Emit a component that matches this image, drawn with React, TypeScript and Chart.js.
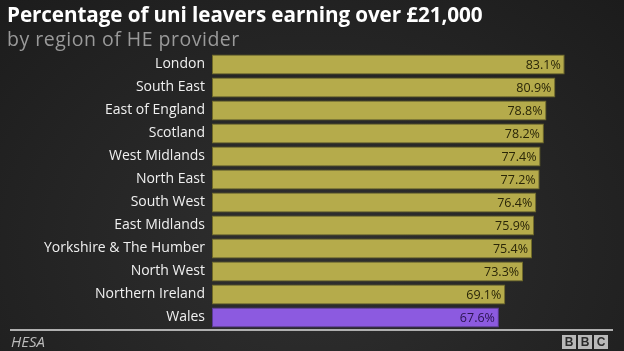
import React, { useEffect, useRef } from "react";
import { Chart, registerables } from "chart.js";

Chart.register(...registerables);

const regions = [
  "London",
  "South East",
  "East of England",
  "Scotland",
  "West Midlands",
  "North East",
  "South West",
  "East Midlands",
  "Yorkshire & The Humber",
  "North West",
  "Northern Ireland",
  "Wales",
];
const percentages = [83.1, 80.9, 78.8, 78.2, 77.4, 77.2, 76.4, 75.9, 75.4, 73.3, 69.1, 67.6];
const highlightRegion = "Wales";

const FONT = "'Open Sans', 'Lato', sans-serif";

export default function App() {
  const ref = useRef<HTMLCanvasElement | null>(null);

  useEffect(() => {
    if (!ref.current) return;
    const olive = "#b5ab4b";
    const purple = "#8c5ae0";
    const valueLabels = {
      id: "valueLabels",
      afterDatasetsDraw(chart: any) {
        const ctx = chart.ctx;
        const meta = chart.getDatasetMeta(0);
        ctx.save();
        ctx.font = `12.5px ${FONT}`;
        ctx.textAlign = "right";
        ctx.textBaseline = "middle";
        meta.data.forEach((bar: any, i: number) => {
          ctx.fillStyle = regions[i] === highlightRegion ? "#2a1450" : "#2a2608";
          ctx.fillText(percentages[i].toFixed(1) + "%", bar.x - 4, bar.y + 1);
        });
        ctx.restore();
      },
    };
    const chart = new Chart(ref.current, {
      type: "bar",
      data: {
        labels: regions,
        datasets: [
          {
            data: percentages,
            backgroundColor: regions.map((r) => (r === highlightRegion ? purple : olive)),
            borderColor: regions.map((r) => (r === highlightRegion ? "#5a3a98" : "#6e6828")),
            borderWidth: 1,
            borderSkipped: false,
            barPercentage: 0.86,
            categoryPercentage: 1,
          },
        ],
      },
      options: {
        indexAxis: "y",
        animation: false,
        responsive: false,
        maintainAspectRatio: false,
        layout: { padding: { top: 53, bottom: 22, left: 0, right: 30 } },
        plugins: {
          legend: { display: false },
          tooltip: { enabled: false },
          title: { display: false },
        },
        scales: {
          x: {
            display: false,
            min: 0,
            max: 90,
            grid: { display: false },
          },
          y: {
            grid: { display: false, drawTicks: false },
            border: { display: false },
            ticks: {
              color: "#f0f0f0",
              font: { family: FONT, size: 14 },
              padding: 7,
            },
            afterFit(scale: any) {
              scale.width = 212;
            },
          },
        },
      },
      plugins: [valueLabels],
    });
    return () => chart.destroy();
  }, []);

  return (
    <div
      style={{
        position: "absolute",
        left: 0,
        top: 0,
        width: 624,
        height: 351,
        overflow: "hidden",
        background: "radial-gradient(ellipse at 50% 70%, #303030 0%, #272727 45%, #1c1c1c 100%)",
        fontFamily: FONT,
      }}
    >
      <canvas ref={ref} width={624} height={351} style={{ position: "absolute", left: 0, top: 0 }} />
      <div
        style={{
          position: "absolute",
          left: 7,
          top: 0,
          color: "#ffffff",
          fontWeight: 700,
          fontSize: 20.7,
          letterSpacing: -0.1,
          whiteSpace: "nowrap",
        }}
      >
        Percentage of uni leavers earning over £21,000
      </div>
      <div
        style={{
          position: "absolute",
          left: 7,
          top: 25,
          color: "#9a9a9a",
          fontSize: 19.5,
          letterSpacing: 0.5,
          whiteSpace: "nowrap",
        }}
      >
        by region of HE provider
      </div>
      <div
        style={{
          position: "absolute",
          left: 10,
          top: 329,
          width: 603,
          height: 2,
          background: "#b0b0b0",
        }}
      />
      <div
        style={{
          position: "absolute",
          left: 11,
          top: 331,
          color: "#bbbbbb",
          fontStyle: "italic",
          fontSize: 15,
        }}
      >
        HESA
      </div>
      <div style={{ position: "absolute", left: 562, top: 335, display: "flex", gap: 2 }}>
        {["B", "B", "C"].map((l, i) => (
          <div
            key={i}
            style={{
              width: 14,
              height: 14,
              background: "#b8b8b8",
              color: "#2a2a2a",
              fontSize: 12,
              fontWeight: 700,
              lineHeight: "14px",
              textAlign: "center",
              fontFamily: "Arial, 'Liberation Sans', sans-serif",
            }}
          >
            {l}
          </div>
        ))}
      </div>
    </div>
  );
}
